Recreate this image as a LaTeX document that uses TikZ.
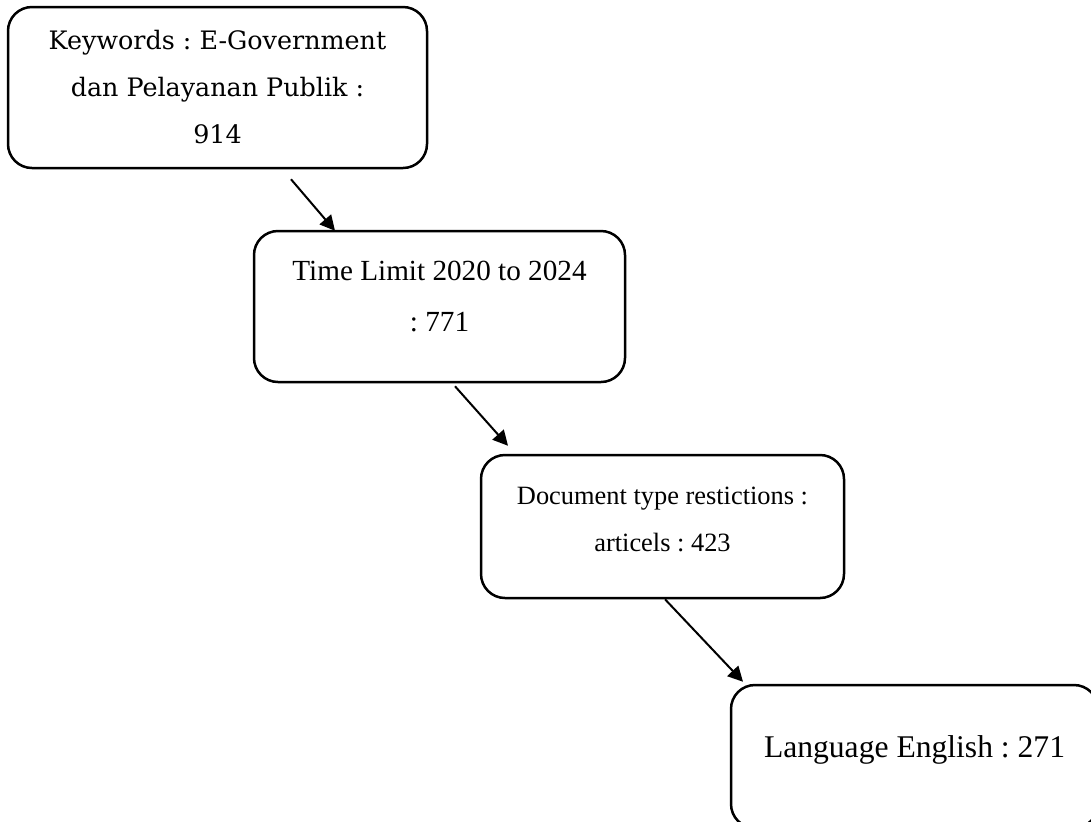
\documentclass[tikz,border=0pt]{standalone}
\usepackage{fontspec}
\setmainfont{Liberation Serif}
\newfontfamily\kwfont{DejaVu Serif}
\usetikzlibrary{arrows.meta}
\frenchspacing

\begin{document}
\begin{tikzpicture}[
  x=0.5pt, y=-0.5pt,
  caja/.style={draw=black, line width=1.25pt, rounded corners=12pt, inner sep=0pt},
  texto/.style={align=center, inner sep=0pt},
  flecha/.style={line width=1pt, -{Triangle[length=7.5pt, width=7.5pt]}}
]
  \useasboundingbox (0,0) rectangle (1091,821);
  \clip (0,0) rectangle (1091,821);

  % Cajas de cada filtro
  \node[caja, minimum width=209.5pt, minimum height=80.5pt] (kw) at (217.5,87.5) {};
  \node[caja, minimum width=185.5pt, minimum height=75.5pt] (tl) at (439.5,306.5) {};
  \node[caja, minimum width=181.5pt, minimum height=71.5pt] (dt) at (662.5,526.5) {};
  \node[caja, minimum width=183.5pt, minimum height=71.5pt] (le) at (914.5,756.5) {};

  % Textos dentro de las cajas
  \node[texto, font=\kwfont\fontsize{12.7}{23.5}\selectfont] (kwtext) at (kw.center)
    {Keywords : E-Government\\dan Pelayanan Publik :\\914};
  \node[texto, font=\fontsize{14.6}{25.5}\selectfont] (tltext) at ([shift={(0,-10)}]tl.center)
    {Time Limit 2020 to 2024\\: 771};
  \node[texto, font=\fontsize{13.2}{23.5}\selectfont] (dttext) at ([shift={(0,-7)}]dt.center)
    {Document type restictions :\\articels : 423};
  \node[texto, font=\fontsize{15.8}{19}\selectfont] (letext) at ([shift={(0,-7)}]le.center)
    {Language English : 271};

  % Flechas entre cajas
  \draw[flecha] ([shift={(73.5,10)}]kw.south) -- ([shift={(-104.5,1)}]tl.north);
  \draw[flecha] ([shift={(15.5,3)}]tl.south) -- ([shift={(-154.5,-8)}]dt.north);
  \draw[flecha] ([shift={(2.5,0)}]dt.south) -- ([shift={(-171.5,-2)}]le.north);

\end{tikzpicture}
\end{document}
